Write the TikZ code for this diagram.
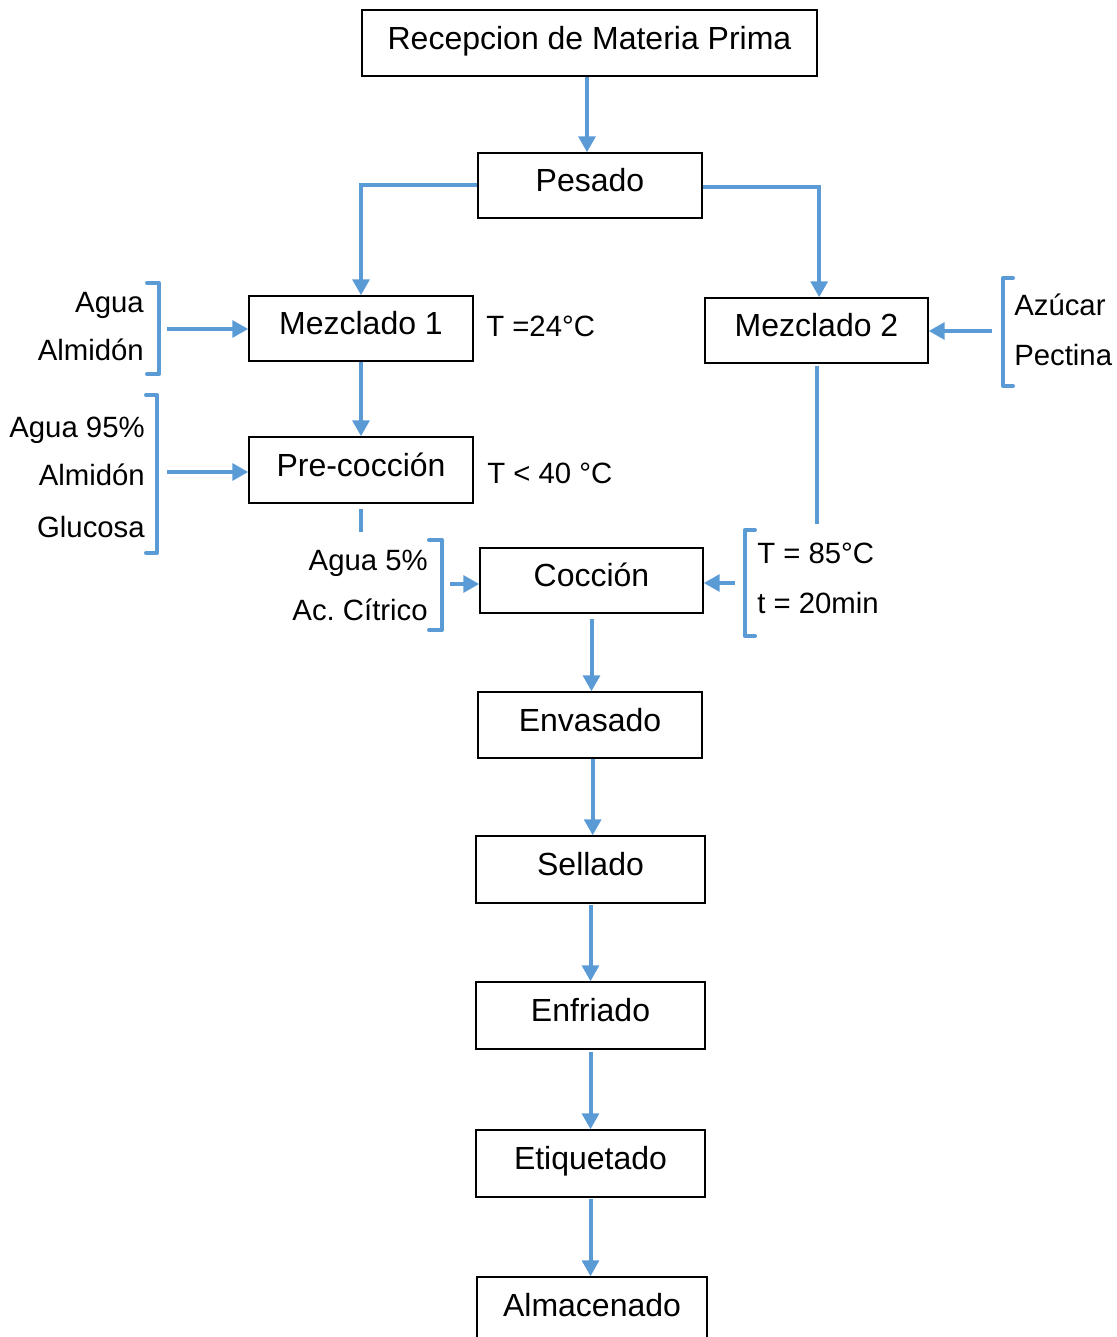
\documentclass[tikz,border=0pt]{standalone}
\usepackage{fontspec}
\setmainfont{Liberation Sans}
\usetikzlibrary{arrows.meta}
\definecolor{flowblue}{HTML}{5B9BD5}
\frenchspacing
\begin{document}
\begin{tikzpicture}[x=0.75pt,y=-0.75pt,
  box/.style={draw=black, line width=1pt, inner sep=0pt, font=\fontsize{24}{28}\selectfont,
    text height=17.2pt, text depth=7.5pt},
  bsz/.style 2 args={minimum width=#1*0.75pt, minimum height=#2*0.75pt},
  side/.style={inner sep=0pt, font=\fontsize{22}{26}\selectfont, text height=15.75pt, text depth=0pt},
  flow/.style={draw=flowblue, line width=3pt, -{Triangle[length=12pt,width=12.5pt]}},
  line/.style={draw=flowblue, line width=3pt},
  brk/.style={draw=flowblue, line width=3pt, line cap=round, line join=round}]
\useasboundingbox (0,0) rectangle (1116,1337);
% boxes
\node[box, bsz={455}{66}] (rec) at (589.5,43) {Recepcion de Materia Prima};
\node[box, bsz={224}{65}] (pes) at (590,185.5) {Pesado};
\node[box, bsz={224}{65}] (m1) at (361,328.5) {Mezclado 1};
\node[box, bsz={223}{65}] (m2) at (816.5,330.5) {Mezclado 2};
\node[box, bsz={224}{66}] (pre) at (361,470) {Pre-cocción};
\node[box, bsz={223}{65}] (coc) at (591.5,580.5) {Cocción};
\node[box, bsz={224}{66}] (env) at (590,725) {Envasado};
\node[box, bsz={229}{67}] (sel) at (590.5,869.5) {Sellado};
\node[box, bsz={229}{67}] (enf) at (590.5,1015.5) {Enfriado};
\node[box, bsz={229}{67}] (eti) at (590.5,1163.5) {Etiquetado};
\node[box, bsz={230}{66}] (alm) at (592,1310) {Almacenado};
% side texts
\node[side, anchor=west] (t1) at (486,326) {T =24°C};
\node[side, anchor=west] (t2) at (487,473) {T < 40 °C};
\node[side, anchor=east] (a1) at (144,302.5) {Agua};
\node[side, anchor=east] (a2) at (144,350) {Almidón};
\node[side, anchor=east] (b1) at (145,427) {Agua 95\%};
\node[side, anchor=east] (b2) at (145,475) {Almidón};
\node[side, anchor=east] (b3) at (145,527) {Glucosa};
\node[side, anchor=east] (c1) at (428,560) {Agua 5\%};
\node[side, anchor=east] (c2) at (428,610) {Ac. Cítrico};
\node[side, anchor=west] (d1) at (757,552.5) {T = 85°C};
\node[side, anchor=west] (d2) at (757,603) {t = 20min};
\node[side, anchor=west] (e1) at (1014,305) {Azúcar};
\node[side, anchor=west] (e2) at (1014,354.5) {Pectina};
% brackets
\draw[brk] (147,283) -- (159,283) -- (159,374) -- (147,374);
\draw[brk] (146,395) -- (157,395) -- (157,553) -- (146,553);
\draw[brk] (429,540) -- (442,540) -- (442,630) -- (429,630);
\draw[brk] (755,530) -- (745,530) -- (745,636) -- (755,636);
\draw[brk] (1013,278) -- (1003,278) -- (1003,386) -- (1013,386);
% connector free ends
\coordinate (s1) at (167,329);
\coordinate (s2) at (167,472);
\coordinate (s3) at (450,584);
\coordinate (s4) at (735,583);
\coordinate (s5) at (992,331);
\coordinate (m2end) at (817,524);
\coordinate (pa) at (361,509);
\coordinate (pb) at (361,532);
% connectors
\draw[flow] (rec.south -| 587,0) -- (pes.north -| 587,0);
\draw[flow] (pes.west) -| (m1.north);
\draw[flow] ([yshift=-1.5pt]pes.east) -| ([xshift=2pt]m2.north);
\draw[flow] (m1.south) -- (pre.north);
\draw[flow] (s1) -- (s1 -| m1.west);
\draw[flow] (s2) -- (s2 -| pre.west);
\draw[flow] (s3) -- (s3 -| coc.west);
\draw[flow] (s4) -- (s4 -| coc.east);
\draw[flow] (s5) -- (s5 -| m2.east);
\draw[line] ([yshift=-2pt]m2.south -| m2end) -- (m2end);
\draw[line] (pa) -- (pb);
\draw[flow] ([yshift=-4pt]coc.south) -- (env.north -| coc.south);
\draw[flow] ([xshift=2pt]env.south) -- ([xshift=2pt]env.south |- sel.north);
\draw[flow] ([yshift=-1pt]sel.south) -- (enf.north);
\draw[flow] ([yshift=-2pt]enf.south) -- (eti.north);
\draw[flow] ([yshift=-1pt]eti.south) -- (eti.south |- alm.north);
\end{tikzpicture}
\end{document}
